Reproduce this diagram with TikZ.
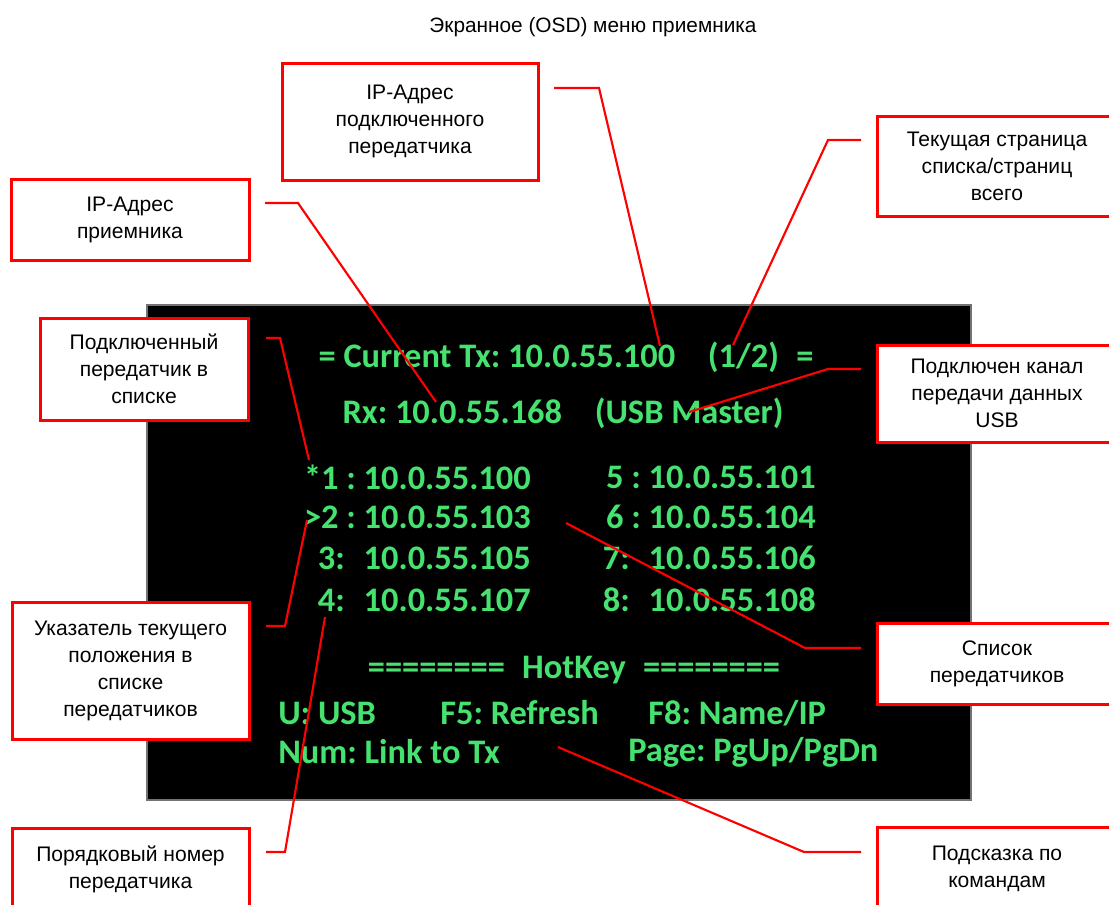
\documentclass[tikz,border=0pt]{standalone}
\usepackage{fontspec}
\setmainfont{Liberation Sans}
\newfontfamily\osdfont{Carlito}
\usetikzlibrary{calc}
\frenchspacing
\definecolor{osdgreen}{RGB}{70,226,112}
\definecolor{calred}{RGB}{255,0,0}
\tikzset{
  callout/.style 2 args={draw=calred, line width=2.25pt, fill=white, align=center,
    minimum width=#1*0.75pt, minimum height=#2*0.75pt, inner sep=0pt,
    font=\fontsize{15.8}{20.25}\selectfont, text=black},
  leader/.style={draw=calred, line width=1.6pt, line join=miter},
  osd/.style={text=osdgreen, inner sep=0pt, font=\osdfont\bfseries\fontsize{25.8}{30}\selectfont},
  screenbox/.style={draw=black!55, line width=1.2pt, fill=black, inner sep=0pt,
    minimum width=824*0.75pt, minimum height=495*0.75pt}
}
\begin{document}
\begin{tikzpicture}[x=0.75pt,y=-0.75pt]
\useasboundingbox (0,0) rectangle (1109,904);
\fill[white] (0,0) rectangle (1109,904);

\node[font=\fontsize{15.6}{18}\selectfont, inner sep=0pt] (title) at (593,27) {Экранное (OSD) меню приемника};

% screen
\node[screenbox] (scr) at (559,552.5) {};
\node[osd] (l1) at (566,357) {= Current Tx: 10.0.55.100\hspace{0.95em}(1/2)\hspace{0.5em}=};
\node[osd] (l2) at (563,413) {Rx: 10.0.55.168\hspace{0.95em}(USB Master)};
\node[osd, anchor=east] (a1) at (531,477) {*1 : 10.0.55.100};
\node[osd, anchor=east] (a2) at (531,517) {>2 : 10.0.55.103};
\node[osd, anchor=east] (a3) at (531,558) {3:\hspace{0.55em}10.0.55.105};
\node[osd, anchor=east] (a4) at (531,600) {4:\hspace{0.55em}10.0.55.107};
\node[osd, anchor=east] (c5) at (816,477) {5 : 10.0.55.101};
\node[osd, anchor=east] (c6) at (816,517) {6 : 10.0.55.104};
\node[osd, anchor=east] (c7) at (816,558) {7:\hspace{0.55em}10.0.55.106};
\node[osd, anchor=east] (c8) at (816,600) {8:\hspace{0.55em}10.0.55.108};
\node[osd] (hk) at (574,670) {========\hspace{0.5em}HotKey\hspace{0.5em}========};
\node[osd, anchor=west] (k1) at (278,713) {U: USB};
\node[osd, anchor=west] (k2) at (440,713) {F5: Refresh};
\node[osd, anchor=west] (k3) at (648,713) {F8: Name/IP};
\node[osd, anchor=west] (k4) at (278,752) {Num: Link to Tx};
\node[osd, anchor=west] (k5) at (628,752) {Page: PgUp/PgDn};

% callouts
\node[callout={256}{117}] (b1) at (410,121.5) {IP-Адрес\\подключенного\\передатчика};
\node[callout={240}{100}] (b2) at (997,166) {Текущая страница\\списка/страниц\\всего};
\node[callout={238}{81}] (b3) at (130,219.5) {IP-Адрес\\приемника};
\node[callout={208}{102}] (b4) at (144,369) {Подключенный\\передатчик в\\списке};
\node[callout={239}{97}] (b5) at (997,393.5) {Подключен канал\\передачи данных\\USB};
\node[callout={237}{137}] (b6) at (130.5,670.5) {Указатель текущего\\положения в\\списке\\передатчиков};
\node[callout={237}{82}] (b7) at (130.5,869) {Порядковый номер\\передатчика};
\node[callout={240}{81}] (b8) at (997,663.5) {Список\\передатчиков};
\node[callout={240}{83}] (b9) at (997,868.5) {Подсказка по\\командам};

% leader anchors
\coordinate (s1) at (554,88);   \coordinate (m1) at (599,88);   \coordinate (t1) at (660,346);
\coordinate (s2) at (861,140);  \coordinate (m2) at (828,140);  \coordinate (t2) at (733,345);
\coordinate (s3) at (265,203);  \coordinate (m3) at (298,203);  \coordinate (t3) at (436,402);
\coordinate (s4) at (266,338);  \coordinate (m4) at (280,338);  \coordinate (t4) at (309,460);
\coordinate (s5) at (861,369);  \coordinate (m5) at (828,369);  \coordinate (t5) at (689,412);
\coordinate (s6) at (266,626);  \coordinate (m6) at (285,626);  \coordinate (t6) at (307,520);
\coordinate (s7) at (266,852);  \coordinate (m7) at (285,852);  \coordinate (t7) at (325,617);
\coordinate (s8) at (861,648);  \coordinate (m8) at (805,648);  \coordinate (t8) at (566,523);
\coordinate (s9) at (861,852);  \coordinate (m9) at (804,852);  \coordinate (t9) at (558,747);

\foreach \i in {1,...,9} {\draw[leader] (s\i) -- (m\i) -- (t\i);}
\end{tikzpicture}
\end{document}
